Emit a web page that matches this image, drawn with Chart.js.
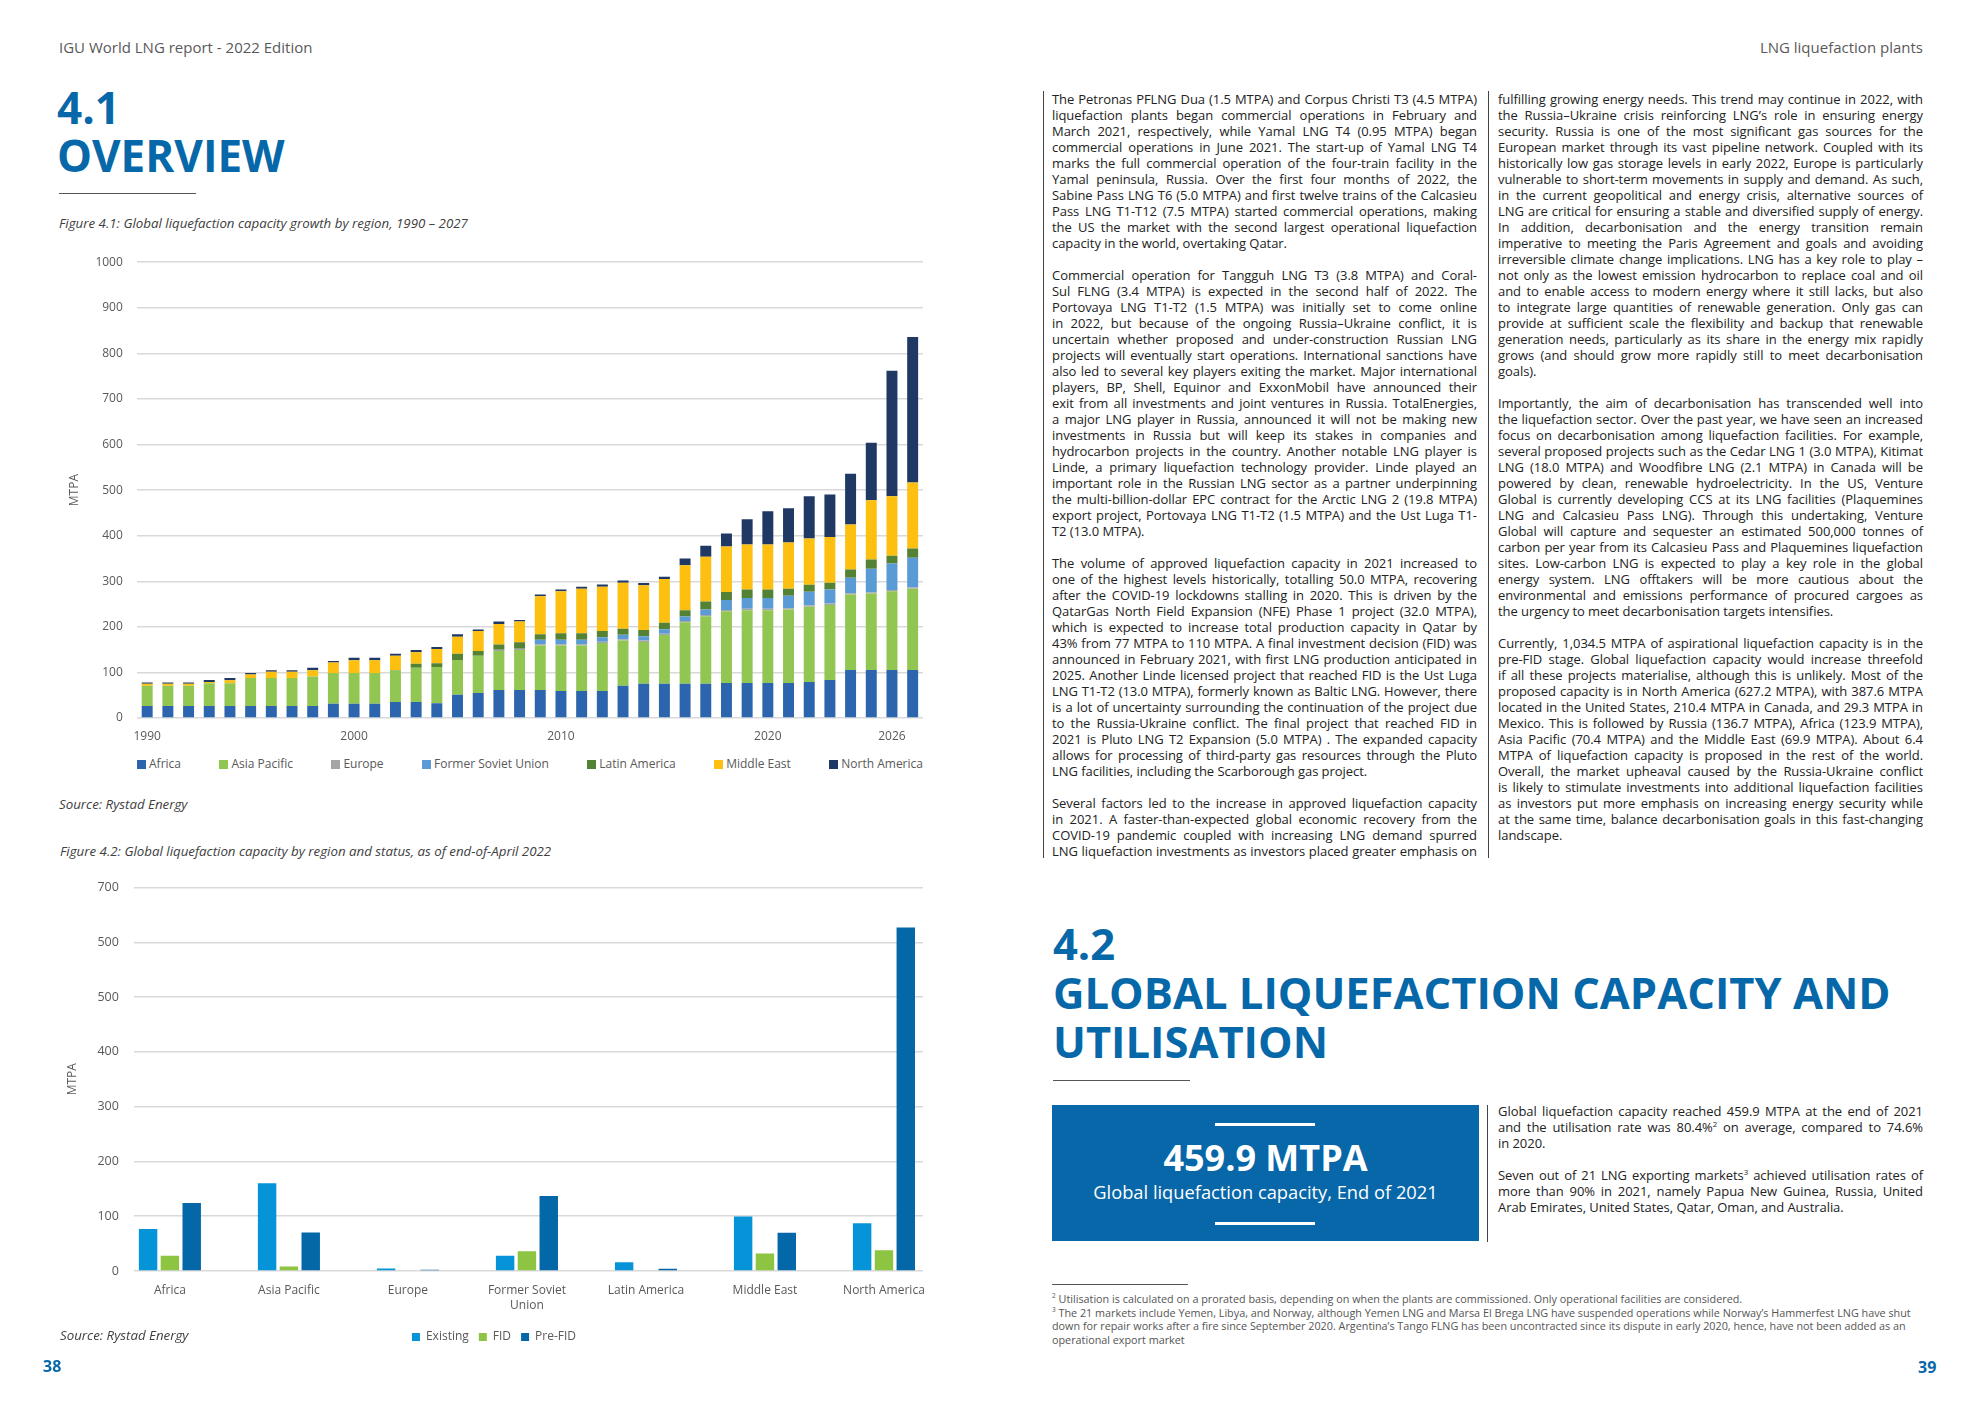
<!DOCTYPE html>
<html>
<head>
<meta charset="utf-8">
<title>LNG liquefaction plants</title>
<script src="https://cdn.jsdelivr.net/npm/chart.js@4.4.1/dist/chart.umd.min.js"></script>
<style>
  html, body { margin: 0; padding: 0; background: #fff; }
  body { width: 1984px; height: 1403px; position: relative; overflow: hidden;
         font-family: "Open Sans", sans-serif; color: #222; }
  .abs { position: absolute; }
  .hdr { top: 37px; font-size: 15px; line-height: 21px; color: #595959; }
  .sec { color: #0768a9; font-weight: 700; white-space: nowrap; }
  .rule { position: absolute; height: 0; border-top: 1.5px solid #555; }
  .cap { font-style: italic; font-size: 13.3px; line-height: 17px; color: #404040; white-space: nowrap; }
  .col { position: absolute; width: 425px; font-size: 13px; letter-spacing: -0.05px; }
  .ln { height: 16px; line-height: 16px; text-align: justify; text-align-last: justify; }
  .ln.last { text-align-last: left; }
  .vr { position: absolute; width: 0; border-left: 1px solid #444; }
  .pg { font-weight: 700; font-size: 16px; line-height: 20px; color: #0768a9; }
  .box { left: 1052px; top: 1105px; width: 427px; height: 136px; background: #0767a9; color: #fff; text-align: center; }
  .box .bar { position: absolute; left: 163px; width: 100px; height: 2.5px; background: #fff; }
  .fn { left: 1052px; top: 1292px; font-size: 10.8px; line-height: 13.7px; color: #555; white-space: nowrap; }
  .fn sup, .col sup { font-size: 0.6em; line-height: 0; vertical-align: super; }
  #capacityLegend { left: 137px; top: 754px; width: 786px; height: 18px; display: flex;
                    justify-content: space-between; align-items: center; font-size: 12px; color: #595959; }
  #capacityLegend span.sw { display: inline-block; width: 9px; height: 9px; margin-right: 3px; vertical-align: -1px; }
</style>
</head>
<body>

<div class="abs hdr" style="left:59px">IGU World LNG report - 2022 Edition</div>
<div class="abs hdr" style="right:61px">LNG liquefaction plants</div>

<div class="abs sec" style="left:57px; top:83px; font-size:44px; line-height:48px">4.1<br>OVERVIEW</div>
<div class="rule" style="left:59px; top:193px; width:137px"></div>
<div class="abs cap" style="left:59px; top:215px">Figure 4.1: Global liquefaction capacity growth by region, 1990 – 2027</div>

<canvas id="capacityChart" class="abs" style="left:40px; top:241px" width="900" height="503"></canvas>
<div id="capacityLegend" class="abs"></div>
<div class="abs cap" style="left:59px; top:796px">Source: Rystad Energy</div>

<div class="abs cap" style="left:60px; top:843px">Figure 4.2: Global liquefaction capacity by region and status, as of end-of-April 2022</div>
<canvas id="statusChart" class="abs" style="left:40px; top:865px" width="920" height="488"></canvas>
<div class="abs cap" style="left:60px; top:1327px">Source: Rystad Energy</div>

<div class="abs pg" style="left:43px; top:1356px">38</div>

<!-- right page -->
<div class="vr" style="left:1043px; top:91px; height:767px"></div>
<div class="vr" style="left:1488px; top:91px; height:767px"></div>
<div id="col1" class="col" style="left:1052px; top:91px"></div>
<div id="col2" class="col" style="left:1498px; top:91px"></div>

<div class="abs sec" style="left:1053px; top:919px; font-size:43.5px; line-height:49px">4.2<br>GLOBAL LIQUEFACTION CAPACITY AND<br>UTILISATION</div>
<div class="rule" style="left:1053px; top:1080px; width:137px"></div>

<div class="abs box">
  <div class="bar" style="top:18px"></div>
  <div style="position:absolute; left:0; right:0; top:32px; font-size:36px; line-height:42px; font-weight:700">459.9 MTPA</div>
  <div style="position:absolute; left:0; right:0; top:75px; font-size:18.3px; line-height:24px">Global liquefaction capacity, End of 2021</div>
  <div class="bar" style="top:117px"></div>
</div>
<div class="vr" style="left:1487px; top:1105px; height:137px"></div>
<div id="col3" class="col" style="left:1498px; top:1103px"></div>

<div class="rule" style="left:1052px; top:1284px; width:136px; border-top-width:1px"></div>
<div class="abs fn">
  <div><sup>2</sup> Utilisation is calculated on a prorated basis, depending on when the plants are commissioned. Only operational facilities are considered.</div>
  <div><sup>3</sup> The 21 markets include Yemen, Libya, and Norway, although Yemen LNG and Marsa El Brega LNG have suspended operations while Norway’s Hammerfest LNG have shut</div>
  <div>down for repair works after a fire since September 2020. Argentina’s Tango FLNG has been uncontracted since its dispute in early 2020, hence, have not been added as an</div>
  <div>operational export market</div>
</div>
<div class="abs pg" style="left:1918px; top:1357px">39</div>

<script>
// ---- Figure 4.1 data (MTPA, stacked by region) ----
const years = ['1990','1991','1992','1993','1994','1995','1996','1997','1998','1999',
  '2000','2001','2002','2003','2004','2005','2006','2007','2008','2009',
  '2010','2011','2012','2013','2014','2015','2016','2017','2018','2019',
  '2020','2021','2022','2023','2024','2025','2026','2027'];
const shownYears = ['1990','2000','2010','2020','2026'];

const africa = [26.5,26.5,26.5,26.5,26.5,26.5,26.5,26.5,26.5,31,
  31,31,35,35,32.6,51,54.6,61.4,61.4,61.4,
  59,59,59,70.5,75,75,75,75,76.6,76.6,
  76.6,76.6,79,83.4,105.4,105.4,105.4,105.4];
const asiaPacific = [44.5,44.5,44.5,50,49.5,61.5,61.5,61.5,64.5,68,
  68,68,69,75,79.4,76,82,85.6,87.6,97.6,
  100,100,105.5,99.5,92,107,135,148,157.4,160,
  160,161.4,165,164.6,165.3,167.6,172.6,178];
const europe = [0,0,0,0,0,0,0,0,0,0,
  0,0,0,0,0,0,0,3,3,3,
  3,3,3,3,3,3,3,3,3,3,
  3,3,3,3,3,3,3,3];
const formerSovietUnion = [0,0,0,0,0,0,0,0,0,0,
  0,0,0,0,0,0,0,0,0,9.6,
  9.6,9.6,9.6,9.6,9.6,9.6,9.6,12,22,23.5,
  23.5,27,30,31,34,51.5,58,65.3];
const latinAmerica = [0,0,0,0,0,0,0,0,0,0,
  0,0,1.5,9,8,14,10.5,11,14,12,
  14.4,14.4,14,13.4,13.4,14.4,14,17.5,17.7,19,
  19,15.5,15.6,15,18.2,20.5,17,20.2];
const middleEast = [4,4,4,2.5,7,7.5,13.5,13.5,14,23,
  27.5,27.5,31,25,31.6,37,44,45,45.5,83.5,
  92,97.5,97,101,98,96,98.5,98.5,99.3,98.6,
  98.6,101.5,101.4,100,98.6,129.6,130.7,145];
const northAmerica = [3,3,3,4.5,5,3.5,3.5,3.5,5,3,
  5.5,5.5,4.5,5,4.4,5.5,3,5.5,3.5,3.7,
  4,4.5,4.6,4.7,5.4,5,15,24,29,55.4,
  72.8,75.2,92.7,93.5,111.4,126.4,275.3,319];

const regionNames = ['Africa','Asia Pacific','Europe','Former Soviet Union','Latin America','Middle East','North America'];
const regionSeries = [africa, asiaPacific, europe, formerSovietUnion, latinAmerica, middleEast, northAmerica];
const regionColours = ['#2d64ae','#92c653','#a5a5a5','#5b9bd5','#548235','#fdc010','#1f3864'];

// ---- Figure 4.2 data (MTPA by status) ----
const statusRegions = ['Africa','Asia Pacific','Europe',['Former Soviet','Union'],'Latin America','Middle East','North America'];
const existing = [76.7,160,4.4,28,16,99.4,87];
const fid = [28,8,0,36,0,32,38];
const preFid = [123.9,70.4,2.5,136.7,4,69.9,627.2];
const statusTickLabels = ['0','100','200','300','400','500','500','700'];

const greyText = '#595959';
Chart.defaults.font.family = "'Open Sans', sans-serif";
Chart.defaults.color = greyText;

// legend for figure 4.1 spread across the plot width, built from the chart's own legend items
const htmlLegend = {
  id: 'htmlLegend',
  afterUpdate(chart, args, opts) {
    const box = document.getElementById(opts.containerID);
    box.innerHTML = '';
    chart.options.plugins.legend.labels.generateLabels(chart).forEach(item => {
      const el = document.createElement('div');
      const sw = document.createElement('span');
      sw.className = 'sw';
      sw.style.background = item.fillStyle;
      el.appendChild(sw);
      el.appendChild(document.createTextNode(item.text));
      box.appendChild(el);
    });
  }
};

new Chart(document.getElementById('capacityChart'), {
  type: 'bar',
  data: {
    labels: years,
    datasets: regionNames.map((name, i) => ({
      label: name,
      data: regionSeries[i],
      backgroundColor: regionColours[i],
      borderWidth: 0,
      barPercentage: 0.53,
      categoryPercentage: 1
    }))
  },
  plugins: [htmlLegend],
  options: {
    responsive: false,
    animation: false,
    layout: { padding: { top: 0, left: 27, right: 17, bottom: 0 } },
    plugins: {
      tooltip: { enabled: false },
      legend: { display: false },
      htmlLegend: { containerID: 'capacityLegend' }
    },
    scales: {
      x: {
        stacked: true,
        grid: { display: false, drawTicks: false },
        border: { display: false },
        ticks: {
          autoSkip: false, maxRotation: 0, padding: 11, color: greyText, font: { size: 12 },
          callback: (v, i) => shownYears.includes(years[i]) ? years[i] : ''
        },
        afterFit: (scale) => { scale.height = 26; }
      },
      y: {
        stacked: true,
        min: 0, max: 1000,
        ticks: { stepSize: 100, padding: 14, color: greyText, font: { size: 12 },
                 callback: (v) => String(v) },
        grid: { color: '#d9d9d9', lineWidth: 1.5, drawTicks: false },
        border: { display: false },
        title: { display: true, text: 'MTPA', color: greyText, font: { size: 12 }, padding: { top: 0, bottom: 0 } }
      }
    }
  }
});

const toPoints = (arr) => arr.map((v, i) => ({ x: i, y: v }));

new Chart(document.getElementById('statusChart'), {
  type: 'bar',
  data: {
    datasets: [
      { label: 'Existing', data: toPoints(existing), backgroundColor: '#0594d8' },
      { label: 'FID', data: toPoints(fid), backgroundColor: '#8dc441' },
      { label: 'Pre-FID', data: toPoints(preFid), backgroundColor: '#0467a7' }
    ].map(d => Object.assign(d, { borderWidth: 0, barPercentage: 0.845, categoryPercentage: 0.55 }))
  },
  options: {
    responsive: false,
    animation: false,
    layout: { padding: { top: 12, left: 25, right: 37, bottom: 0 } },
    plugins: {
      tooltip: { enabled: false },
      legend: {
        position: 'bottom',
        labels: { boxWidth: 8, boxHeight: 8, padding: 10, color: greyText, font: { size: 12 } }
      }
    },
    scales: {
      x: {
        type: 'linear',
        offset: false,
        min: -0.303, max: 6.328,
        grid: { display: false, drawTicks: false },
        border: { display: false },
        ticks: {
          stepSize: 1, includeBounds: false, autoSkip: false, maxRotation: 0, padding: 12,
          color: greyText, font: { size: 12, lineHeight: 1.25 },
          callback: (v) => Number.isInteger(v) ? statusRegions[v] : ''
        },
        afterFit: (scale) => { scale.height = 50; }
      },
      y: {
        min: 0, max: 700,
        ticks: { stepSize: 100, padding: 15, color: greyText, font: { size: 12.5 },
                 callback: (v) => statusTickLabels[v / 100] },
        grid: { color: '#d9d9d9', lineWidth: 1.5, drawTicks: false },
        border: { display: false },
        title: { display: true, text: 'MTPA', color: greyText, font: { size: 12 }, padding: { top: 0, bottom: 3 } }
      }
    }
  }
});

// ---- page text ----
const col1 = [
  { lines: [
    'The Petronas PFLNG Dua (1.5 MTPA) and Corpus Christi T3 (4.5 MTPA)',
    'liquefaction plants began commercial operations in February and',
    'March 2021, respectively, while Yamal LNG T4 (0.95 MTPA) began',
    'commercial operations in June 2021. The start-up of Yamal LNG T4',
    'marks the full commercial operation of the four-train facility in the',
    'Yamal peninsula, Russia. Over the first four months of 2022, the',
    'Sabine Pass LNG T6 (5.0 MTPA) and first twelve trains of the Calcasieu',
    'Pass LNG T1-T12 (7.5 MTPA) started commercial operations, making',
    'the US the market with the second largest operational liquefaction',
    'capacity in the world, overtaking Qatar.'] },
  { lines: [
    'Commercial operation for Tangguh LNG T3 (3.8 MTPA) and Coral-',
    'Sul FLNG (3.4 MTPA) is expected in the second half of 2022. The',
    'Portovaya LNG T1-T2 (1.5 MTPA) was initially set to come online',
    'in 2022, but because of the ongoing Russia–Ukraine conflict, it is',
    'uncertain whether proposed and under-construction Russian LNG',
    'projects will eventually start operations. International sanctions have',
    'also led to several key players exiting the market. Major international',
    'players, BP, Shell, Equinor and ExxonMobil have announced their',
    'exit from all investments and joint ventures in Russia. TotalEnergies,',
    'a major LNG player in Russia, announced it will not be making new',
    'investments in Russia but will keep its stakes in companies and',
    'hydrocarbon projects in the country. Another notable LNG player is',
    'Linde, a primary liquefaction technology provider. Linde played an',
    'important role in the Russian LNG sector as a partner underpinning',
    'the multi-billion-dollar EPC contract for the Arctic LNG 2 (19.8 MTPA)',
    'export project, Portovaya LNG T1-T2 (1.5 MTPA) and the Ust Luga T1-',
    'T2 (13.0 MTPA).'] },
  { lines: [
    'The volume of approved liquefaction capacity in 2021 increased to',
    'one of the highest levels historically, totalling 50.0 MTPA, recovering',
    'after the COVID-19 lockdowns stalling in 2020. This is driven by the',
    'QatarGas North Field Expansion (NFE) Phase 1 project (32.0 MTPA),',
    'which is expected to increase total production capacity in Qatar by',
    '43% from 77 MTPA to 110 MTPA. A final investment decision (FID) was',
    'announced in February 2021, with first LNG production anticipated in',
    '2025. Another Linde licensed project that reached FID is the Ust Luga',
    'LNG T1-T2 (13.0 MTPA), formerly known as Baltic LNG. However, there',
    'is a lot of uncertainty surrounding the continuation of the project due',
    'to the Russia-Ukraine conflict. The final project that reached FID in',
    '2021 is Pluto LNG T2 Expansion (5.0 MTPA) . The expanded capacity',
    'allows for processing of third-party gas resources through the Pluto',
    'LNG facilities, including the Scarborough gas project.'] },
  { cont: true, lines: [
    'Several factors led to the increase in approved liquefaction capacity',
    'in 2021. A faster-than-expected global economic recovery from the',
    'COVID-19 pandemic coupled with increasing LNG demand spurred',
    'LNG liquefaction investments as investors placed greater emphasis on'] }
];

const col2 = [
  { lines: [
    'fulfilling growing energy needs. This trend may continue in 2022, with',
    'the Russia–Ukraine crisis reinforcing LNG’s role in ensuring energy',
    'security. Russia is one of the most significant gas sources for the',
    'European market through its vast pipeline network. Coupled with its',
    'historically low gas storage levels in early 2022, Europe is particularly',
    'vulnerable to short-term movements in supply and demand. As such,',
    'in the current geopolitical and energy crisis, alternative sources of',
    'LNG are critical for ensuring a stable and diversified supply of energy.',
    'In addition, decarbonisation and the energy transition remain',
    'imperative to meeting the Paris Agreement and goals and avoiding',
    'irreversible climate change implications. LNG has a key role to play –',
    'not only as the lowest emission hydrocarbon to replace coal and oil',
    'and to enable access to modern energy where it still lacks, but also',
    'to integrate large quantities of renewable generation. Only gas  can',
    'provide at sufficient scale the flexibility and backup that renewable',
    'generation needs, particularly as its share in the energy mix rapidly',
    'grows (and should grow more rapidly still to meet decarbonisation',
    'goals).'] },
  { lines: [
    'Importantly, the aim of decarbonisation has transcended well into',
    'the liquefaction sector. Over the past year, we have seen an increased',
    'focus on decarbonisation among liquefaction facilities. For example,',
    'several proposed projects such as the Cedar LNG 1 (3.0 MTPA), Kitimat',
    'LNG (18.0 MTPA) and Woodfibre LNG (2.1 MTPA) in Canada will be',
    'powered by clean, renewable hydroelectricity. In the US, Venture',
    'Global is currently developing CCS at its LNG facilities (Plaquemines',
    'LNG and Calcasieu Pass LNG). Through this undertaking, Venture',
    'Global will capture and sequester an estimated 500,000 tonnes of',
    'carbon per year from its Calcasieu Pass and Plaquemines liquefaction',
    'sites. Low-carbon LNG is expected to play a key role in the global',
    'energy system. LNG offtakers will be more cautious about the',
    'environmental and emissions performance of procured cargoes as',
    'the urgency to meet decarbonisation targets intensifies.'] },
  { lines: [
    'Currently, 1,034.5 MTPA of aspirational liquefaction capacity is in the',
    'pre-FID stage. Global liquefaction capacity would increase threefold',
    'if all these projects materialise, although this is unlikely. Most of the',
    'proposed capacity is in North America (627.2 MTPA), with 387.6 MTPA',
    'located in the United States, 210.4 MTPA in Canada, and 29.3 MTPA in',
    'Mexico. This is followed by Russia (136.7 MTPA), Africa (123.9 MTPA),',
    'Asia Pacific (70.4 MTPA) and the Middle East (69.9 MTPA). About 6.4',
    'MTPA of liquefaction capacity is proposed in the rest of the world.',
    'Overall, the market upheaval caused by the Russia-Ukraine conflict',
    'is likely to stimulate investments into additional liquefaction facilities',
    'as investors put more emphasis on increasing energy security while',
    'at the same time, balance decarbonisation goals in this fast-changing',
    'landscape.'] }
];

const col3 = [
  { lines: [
    'Global liquefaction capacity reached 459.9 MTPA at the end of 2021',
    'and the utilisation rate was 80.4%<sup>2</sup> on average, compared to 74.6%',
    'in 2020.'] },
  { lines: [
    'Seven out of 21 LNG exporting markets<sup>3</sup> achieved utilisation rates of',
    'more than 90% in 2021, namely Papua New Guinea, Russia, United',
    'Arab Emirates, United States, Qatar, Oman, and Australia.'] }
];

function renderColumn(id, paras) {
  const el = document.getElementById(id);
  paras.forEach((p, pi) => {
    if (pi > 0) {
      const gap = document.createElement('div');
      gap.className = 'ln';
      el.appendChild(gap);
    }
    p.lines.forEach((t, i) => {
      const d = document.createElement('div');
      d.className = 'ln' + (i === p.lines.length - 1 && !p.cont ? ' last' : '');
      d.innerHTML = t;
      el.appendChild(d);
    });
  });
}
renderColumn('col1', col1);
renderColumn('col2', col2);
renderColumn('col3', col3);
</script>
</body>
</html>
